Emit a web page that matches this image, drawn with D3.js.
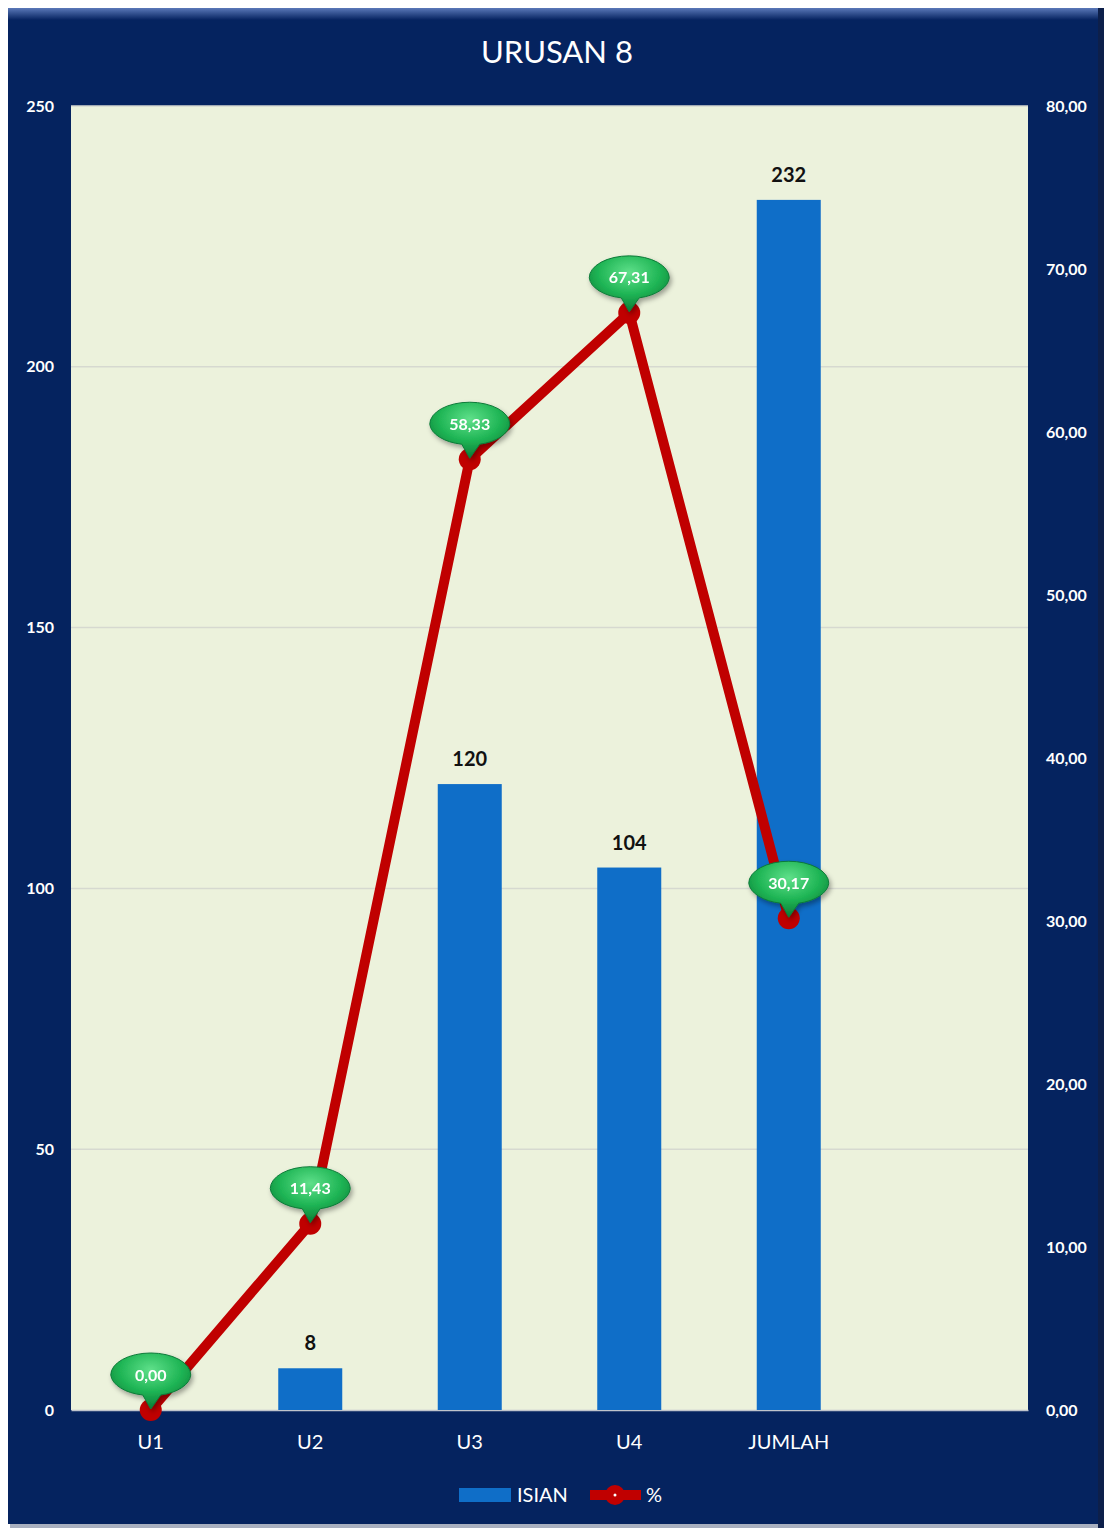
<!DOCTYPE html>
<html>
<head>
<meta charset="utf-8">
<script src="https://cdn.jsdelivr.net/npm/d3@7"></script>
<style>
body { margin: 0; background: #fff; }
svg text { font-family: Lato, "Open Sans", sans-serif; }
</style>
</head>
<body>
<div id="chart"></div>
<script>
// data
const categories = ["U1", "U2", "U3", "U4", "JUMLAH", ""];
const isian = [0, 8, 120, 104, 232];
const persen = [0, 11.43, 58.33, 67.31, 30.17];
const leftTicks = [0, 50, 100, 150, 200, 250];
const rightTicks = [0, 10, 20, 30, 40, 50, 60, 70, 80];

const width = 1104, height = 1528;
const plot = { left: 71, right: 1028, top: 106, bottom: 1410 };

const svg = d3.select("#chart").append("svg")
  .attr("width", width)
  .attr("height", height);

const defs = svg.append("defs");
const bgGrad = defs.append("linearGradient").attr("id", "bevel").attr("x1", 0).attr("y1", 0).attr("x2", 0).attr("y2", 1);
bgGrad.append("stop").attr("offset", 0).attr("stop-color", "#5a78b8");
bgGrad.append("stop").attr("offset", 1).attr("stop-color", "#05225f");

const bubble = defs.append("radialGradient").attr("id", "bubble").attr("cx", "50%").attr("cy", "30%").attr("r", "70%");
bubble.append("stop").attr("offset", 0).attr("stop-color", "#5fe08a");
bubble.append("stop").attr("offset", 0.55).attr("stop-color", "#1fb555");
bubble.append("stop").attr("offset", 1).attr("stop-color", "#0a7a35");

const shadow = defs.append("filter").attr("id", "shadow").attr("x", "-30%").attr("y", "-30%").attr("width", "160%").attr("height", "180%");
shadow.append("feDropShadow").attr("dx", 2).attr("dy", 3).attr("stdDeviation", 2.5).attr("flood-color", "#000").attr("flood-opacity", 0.35);

// outer panel
svg.append("rect").attr("x", 10).attr("y", 10).attr("width", width - 10).attr("height", height - 10).attr("fill", "#a9b0c0");
svg.append("rect").attr("x", 8).attr("y", 8).attr("width", width - 12).attr("height", height - 12).attr("fill", "#05235f");
svg.append("rect").attr("x", 8).attr("y", 8).attr("width", width - 12).attr("height", 12).attr("fill", "url(#bevel)");
svg.append("rect").attr("x", width - 6).attr("y", 8).attr("width", 6).attr("height", height - 8).attr("fill", "#0d1f4a");

svg.append("text")
  .attr("x", 557).attr("y", 63)
  .attr("text-anchor", "middle")
  .attr("fill", "#fff")
  .attr("font-size", 31)
  .text("URUSAN 8");

// scales
const x = d3.scaleBand().domain(categories.map((c, i) => i)).range([plot.left, plot.right]);
const yL = d3.scaleLinear().domain([0, 250]).range([plot.bottom, plot.top]);
const yR = d3.scaleLinear().domain([0, 80]).range([plot.bottom, plot.top]);
const cx = i => x(i) + x.bandwidth() / 2;

svg.append("rect")
  .attr("x", plot.left).attr("y", plot.top)
  .attr("width", plot.right - plot.left).attr("height", plot.bottom - plot.top)
  .attr("fill", "#ecf2dc");

// gridlines
svg.append("g").selectAll("line")
  .data(leftTicks.slice(1))
  .enter().append("line")
  .attr("x1", plot.left).attr("x2", plot.right)
  .attr("y1", d => yL(d)).attr("y2", d => yL(d))
  .attr("stroke", "#d6d9d0").attr("stroke-width", 1.5);

// axes
const leftAxis = svg.append("g")
  .attr("transform", `translate(${plot.left},0)`)
  .call(d3.axisLeft(yL).tickValues(leftTicks).tickSize(0).tickPadding(17));
const rightAxis = svg.append("g")
  .attr("transform", `translate(${plot.right},0)`)
  .call(d3.axisRight(yR).tickValues(rightTicks).tickSize(0).tickPadding(18)
    .tickFormat(d => d3.format(".2f")(d).replace(".", ",")));
const bottomAxis = svg.append("g")
  .attr("transform", `translate(0,${plot.bottom})`)
  .call(d3.axisBottom(x).tickSize(0).tickPadding(25).tickFormat(i => categories[i]));

[leftAxis, rightAxis].forEach(a => {
  a.select(".domain").remove();
  a.selectAll("text").attr("fill", "#fff").attr("font-size", 16).attr("font-weight", "bold").attr("dy", "0.32em");
});
bottomAxis.select(".domain").attr("stroke", "#c0c4cc").attr("stroke-width", 1.5);
bottomAxis.selectAll("text").attr("fill", "#fff").attr("font-size", 20);

// bars
const barW = 64;
svg.append("g").selectAll("rect")
  .data(isian)
  .enter().append("rect")
  .attr("x", (d, i) => cx(i) - barW / 2)
  .attr("y", d => yL(d))
  .attr("width", barW)
  .attr("height", d => yL(0) - yL(d))
  .attr("fill", "#0f6ec8");

svg.append("g").selectAll("text")
  .data(isian)
  .enter().filter(d => d > 0).append("text")
  .attr("x", (d, i) => cx(isian.indexOf(d)))
  .attr("y", d => yL(d) - 18)
  .attr("text-anchor", "middle")
  .attr("font-size", 20).attr("font-weight", "bold")
  .attr("fill", "#111")
  .text(d => d);

// line
const line = d3.line().x((d, i) => cx(i)).y(d => yR(d));
svg.append("path")
  .datum(persen)
  .attr("d", line)
  .attr("fill", "none")
  .attr("stroke", "#c00000")
  .attr("stroke-width", 10)
  .attr("stroke-linejoin", "round");

svg.append("g").selectAll("circle")
  .data(persen)
  .enter().append("circle")
  .attr("cx", (d, i) => cx(i))
  .attr("cy", d => yR(d))
  .attr("r", 11)
  .attr("fill", "#c00000");

// callout labels
const callouts = svg.append("g").selectAll("g")
  .data(persen)
  .enter().append("g")
  .attr("transform", (d, i) => `translate(${cx(i)},${yR(d) - 35})`)
  .attr("filter", "url(#shadow)");
callouts.append("path")
  .attr("d", "M -40 0 A 40 22 0 0 1 40 0 A 40 22 0 0 1 10 20 L 0 34 L -8 20 A 40 22 0 0 1 -40 0 Z")
  .attr("fill", "url(#bubble)")
  .attr("stroke", "#0c7a38").attr("stroke-width", 1);
callouts.append("text")
  .attr("text-anchor", "middle")
  .attr("dy", "0.35em")
  .attr("fill", "#fff")
  .attr("font-size", 16).attr("font-weight", "bold")
  .text(d => d3.format(".2f")(d).replace(".", ","));

// legend
const lg = svg.append("g");
lg.append("rect").attr("x", 459).attr("y", 1488).attr("width", 52).attr("height", 14).attr("fill", "#0f6ec8");
lg.append("text").attr("x", 517).attr("y", 1502).attr("fill", "#fff").attr("font-size", 20).text("ISIAN");
lg.append("line").attr("x1", 590).attr("x2", 641).attr("y1", 1495).attr("y2", 1495).attr("stroke", "#c00000").attr("stroke-width", 10);
lg.append("circle").attr("cx", 615).attr("cy", 1495).attr("r", 10).attr("fill", "#c00000");
lg.append("circle").attr("cx", 615).attr("cy", 1495).attr("r", 1.5).attr("fill", "#fff");
lg.append("text").attr("x", 646).attr("y", 1502).attr("fill", "#fff").attr("font-size", 20).text("%");
</script>
</body>
</html>
